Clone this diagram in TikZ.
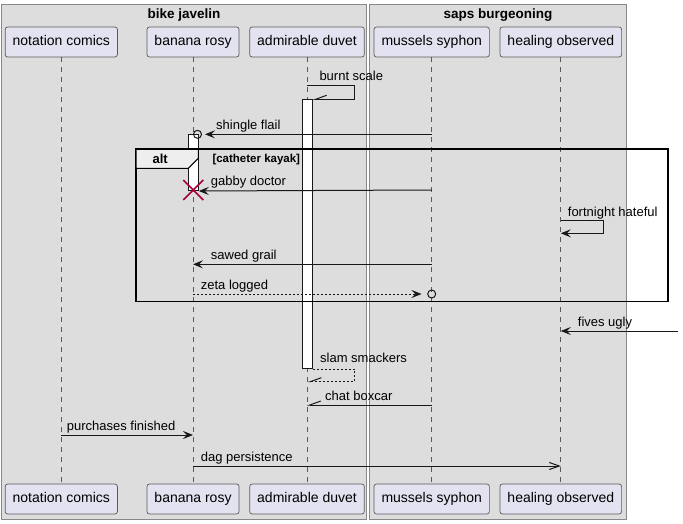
\documentclass[tikz,border=0pt]{standalone}
\usepackage{fontspec}
\setmainfont{Liberation Sans}
\usetikzlibrary{arrows.meta}
\definecolor{grpbg}{HTML}{DDDDDD}
\definecolor{grpline}{HTML}{888888}
\definecolor{partbg}{HTML}{E2E2F0}
\definecolor{partline}{HTML}{5A5A5A}
\definecolor{msgline}{HTML}{181818}
\definecolor{tabbg}{HTML}{EEEEEE}
\definecolor{xred}{HTML}{A80036}
\begin{document}
\begin{tikzpicture}[x=1pt,y=-1pt,
  part/.style={draw=partline, fill=partbg, line width=0.7pt, rounded corners=2.5pt,
    minimum height=30pt, inner xsep=7.5pt, text height=10pt, text depth=3pt,
    font=\fontsize{14}{16}\selectfont},
  grp/.style={draw=grpline, fill=grpbg, line width=1pt},
  grptitle/.style={font=\fontsize{13.5}{15}\selectfont\bfseries, inner sep=0pt, anchor=base},
  lifeline/.style={draw=partline, dash pattern=on 5pt off 5pt, line width=0.7pt},
  msg/.style={draw=msgline, line width=1pt},
  filled/.style={msg, -{Stealth[length=10pt,width=8pt,inset=4pt]}},
  openarr/.style={msg, -{Straight Barb[length=10pt,width=7pt]}},
  halfarr/.style={msg, -{Straight Barb[harpoon,swap,length=11pt,width=8pt]}},
  dotted msg/.style={dash pattern=on 2pt off 2pt},
  lbl/.style={font=\fontsize{13}{15}\selectfont, inner sep=0pt, anchor=base west},
  actbar/.style={draw=msgline, fill=white, line width=1pt, minimum width=10pt, inner sep=0pt, anchor=north},
  endcirc/.style={draw=msgline, line width=1pt, circle, minimum size=8pt, inner sep=0pt},
]
\useasboundingbox (0,0) rectangle (683,524);
% group boxes
\draw[grp] (1,5) rectangle (366.7,519.3);
\draw[grp] (369.3,5) rectangle (626.7,519.3);
\node[grptitle] (g1) at (184,19) {bike javelin};
\node[grptitle] (g2) at (498,19) {saps burgeoning};
% participants
\node[part] (nct) at (61.3,42) {notation comics};
\node[part] (brt) at (193,42) {banana rosy};
\node[part] (adt) at (307,42) {admirable duvet};
\node[part] (mst) at (431.7,42) {mussels syphon};
\node[part] (hot) at (560.8,42) {healing observed};
\node[part] (ncb) at (61.3,499) {notation comics};
\node[part] (brb) at (193,499) {banana rosy};
\node[part] (adb) at (307,499) {admirable duvet};
\node[part] (msb) at (431.7,499) {mussels syphon};
\node[part] (hob) at (560.8,499) {healing observed};
% lifelines
\draw[lifeline] (nct) -- (ncb);
\draw[lifeline] (brt) -- (brb);
\draw[lifeline] (adt) -- (adb);
\draw[lifeline] (mst) -- (msb);
\draw[lifeline] (hot) -- (hob);
% y levels
\coordinate (yburnt) at (0,86);
\coordinate (yshingle) at (0,134.3);
\coordinate (ygabby) at (0,190);
\coordinate (yfort) at (0,220.7);
\coordinate (ysawed) at (0,264.3);
\coordinate (yzeta) at (0,294);
\coordinate (yfives) at (0,331);
\coordinate (ychat) at (0,405);
\coordinate (ypurch) at (0,435);
\coordinate (ydag) at (0,466);
% activation bars
\node[actbar, minimum height=268.7pt] (actA) at (307.3,99.3) {};
\node[actbar, minimum height=55.7pt] (actB) at (193.3,134.3) {};
% alt frame
\draw[draw=black, line width=1.5pt] (136,149) rectangle (668,301.5);
\draw[draw=black, line width=1pt, fill=tabbg] (136,149) -- (198.3,149) -- (198.3,158.3) -- (188.3,168.3) -- (136,168.3) -- cycle;
\draw[draw=black, line width=1.5pt] (136,149) -- (668,149);
\node[font=\fontsize{13}{15}\selectfont\bfseries, inner sep=0pt, anchor=base] (altlbl) at (160.2,163.3) {alt};
\node[font=\fontsize{11.5}{13}\selectfont\bfseries, inner sep=0pt, anchor=base west] (altcond) at (212.3,162.7) {[catheter kayak]};
% burnt scale
\draw[halfarr] (adt |- yburnt) -- ++(47.6,0) -- ++(0,13.3) -- (actA.north east);
\node[lbl] (t1) at (319.3,81) {burnt scale};
% shingle flail
\coordinate (sftip) at (205,134.3);
\draw[filled] (mst |- yshingle) -- (sftip);
\node[endcirc] (sfc) at (197.5,134.3) {};
\node[lbl] (t2) at (216,130) {shingle flail};
% gabby doctor
\draw[filled] (mst |- ygabby) -- (actB.south east);
\draw[xred, line width=1.6pt] (183.3,180) -- (203.3,200) (183.3,200) -- (203.3,180);
\node[lbl] (t3) at (210.7,185.7) {gabby doctor};
% fortnight hateful
\draw[filled] (hot |- yfort) -- ++(42.8,0) -- ++(0,12.6) -- ++(-42.8,0);
\node[lbl] (t4) at (567.7,216) {fortnight hateful};
% sawed grail
\draw[filled] (mst |- ysawed) -- (brt |- ysawed);
\node[lbl] (t5) at (210.7,259.5) {sawed grail};
% zeta logged
\coordinate (zttip) at (421.5,294);
\draw[filled, dotted msg] (brt |- yzeta) -- (zttip);
\node[endcirc] (ztc) at (431.7,294) {};
\node[lbl] (t6) at (200.7,289.3) {zeta logged};
% fives ugly
\coordinate (fustart) at (678,331);
\draw[filled] (fustart) -- (hot |- yfives);
\node[lbl] (t7) at (577.7,326) {fives ugly};
% slam smackers
\draw[halfarr, dotted msg] (actA.south east) -- ++(41.7,0) -- ++(0,12.7) -- ++(-47,0);
\node[lbl] (t8) at (320,362.5) {slam smackers};
% chat boxcar
\draw[halfarr] (mst |- ychat) -- (adt |- ychat);
\node[lbl] (t9) at (325,400.3) {chat boxcar};
% purchases finished
\draw[filled] (nct |- ypurch) -- (brt |- ypurch);
\node[lbl] (t10) at (66.7,430.3) {purchases finished};
% dag persistence
\draw[openarr] (brt |- ydag) -- (hot |- ydag);
\node[lbl] (t11) at (200.7,461.3) {dag persistence};
\end{tikzpicture}
\end{document}
